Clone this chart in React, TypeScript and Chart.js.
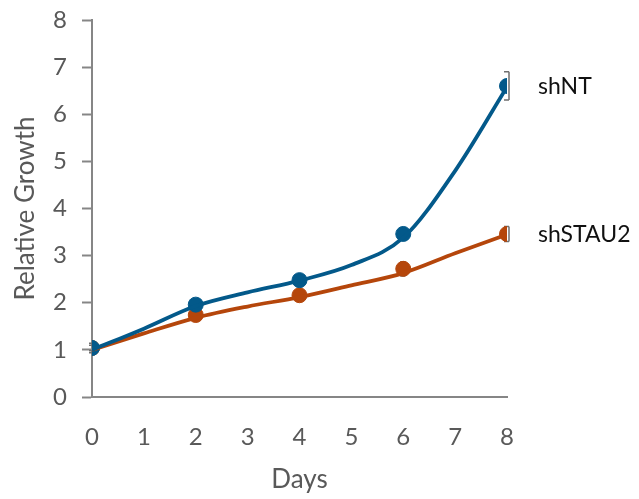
import React, { useEffect, useRef } from "react";
import { Chart, registerables } from "chart.js";

Chart.register(...registerables);

const days = [0, 2, 4, 6, 8];
const shNT = [1.04, 1.96, 2.48, 3.46, 6.6];
const shNTErr = [0.1, 0.08, 0.1, 0.12, 0.3];
const shSTAU2 = [1.04, 1.74, 2.16, 2.72, 3.46];
const shSTAU2Err = [0.06, 0.06, 0.08, 0.15, 0.16];

const trendDays = [0, 1, 2, 3, 4, 5, 6, 7, 8];
const shNTTrend = [1.0, 1.45, 1.93, 2.22, 2.47, 2.8, 3.38, 4.8, 6.58];
const shSTAU2Trend = [1.0, 1.35, 1.68, 1.92, 2.12, 2.37, 2.63, 3.05, 3.45];

const seriesNames = ["shNT", "shSTAU2"];
const yTicks = [0, 1, 2, 3, 4, 5, 6, 7, 8];

const BLUE = "#03598a";
const ORANGE = "#b5460b";
const GRAY = "#868686";
const TEXT = "#595959";
const FONT = "Lato, 'Open Sans', sans-serif";

export default function App() {
  const ref = useRef<HTMLCanvasElement | null>(null);

  useEffect(() => {
    if (!ref.current) return;
    const errs = [shNTErr, shSTAU2Err];

    const errorBars = {
      id: "errorBars",
      beforeDatasetsDraw(chart: any) {
        const ctx = chart.ctx;
        const y = chart.scales.y;
        ctx.save();
        ctx.strokeStyle = "#6f6f6f";
        ctx.lineWidth = 1.5;
        [2, 3].forEach((di, k) => {
          const meta = chart.getDatasetMeta(di);
          const vals = chart.data.datasets[di].data as any[];
          meta.data.forEach((pt: any, i: number) => {
            const v = vals[i].y;
            const e = errs[k][i];
            const x = pt.x + 2;
            const y1 = y.getPixelForValue(v + e);
            const y2 = y.getPixelForValue(v - e);
            ctx.beginPath();
            ctx.moveTo(x, y1);
            ctx.lineTo(x, y2);
            ctx.moveTo(x - 5, y1);
            ctx.lineTo(x, y1);
            ctx.moveTo(x - 5, y2);
            ctx.lineTo(x, y2);
            ctx.stroke();
          });
        });
        ctx.restore();
      },
      afterDatasetsDraw(chart: any) {
        const ctx = chart.ctx;
        ctx.save();
        ctx.fillStyle = "#111111";
        ctx.font = `23px ${FONT}`;
        ctx.textAlign = "left";
        ctx.textBaseline = "middle";
        [2, 3].forEach((di, k) => {
          const meta = chart.getDatasetMeta(di);
          const last = meta.data[meta.data.length - 1];
          ctx.fillText(seriesNames[k], last.x + 31, last.y + 1);
        });
        ctx.restore();
      },
    };

    const chart = new Chart(ref.current, {
      type: "line",
      data: {
        datasets: [
          {
            label: seriesNames[0] + " trend",
            data: trendDays.map((d, i) => ({ x: d, y: shNTTrend[i] })),
            borderColor: BLUE,
            borderWidth: 3.8,
            pointRadius: 0,
            tension: 0.4,
            cubicInterpolationMode: "monotone",
          },
          {
            label: seriesNames[1] + " trend",
            data: trendDays.map((d, i) => ({ x: d, y: shSTAU2Trend[i] })),
            borderColor: ORANGE,
            borderWidth: 3.8,
            pointRadius: 0,
            tension: 0.4,
            cubicInterpolationMode: "monotone",
          },
          {
            label: seriesNames[0],
            data: days.map((d, i) => ({ x: d, y: shNT[i] })),
            showLine: false,
            pointRadius: 7.5,
            pointBackgroundColor: BLUE,
            pointBorderColor: BLUE,
            borderColor: BLUE,
          },
          {
            label: seriesNames[1],
            data: days.map((d, i) => ({ x: d, y: shSTAU2[i] })),
            showLine: false,
            pointRadius: 7.5,
            pointBackgroundColor: ORANGE,
            pointBorderColor: ORANGE,
            borderColor: ORANGE,
          },
        ],
      },
      options: {
        animation: false,
        responsive: true,
        maintainAspectRatio: false,
        layout: { padding: { top: 12, right: 124, left: 0, bottom: 0 } },
        plugins: { legend: { display: false }, tooltip: { enabled: false } },
        scales: {
          x: {
            type: "linear",
            min: 0,
            max: 8,
            afterFit: (s: any) => {
              s.height = 102;
              s.paddingRight = 0;
              s.paddingLeft = 0;
            },
            ticks: {
              stepSize: 1,
              color: TEXT,
              font: { family: FONT, size: 24 },
              padding: 26,
            },
            grid: { display: true, drawOnChartArea: false, drawTicks: false, color: GRAY },
            border: { color: GRAY, width: 2 },
            title: {
              display: true,
              text: "Days",
              color: TEXT,
              font: { family: FONT, size: 26 },
              padding: { top: 2, bottom: 4 },
            },
          },
          y: {
            type: "linear",
            min: 0,
            max: 8,
            afterFit: (s: any) => {
              s.width = 84;
              s.paddingTop = 0;
              s.paddingBottom = 0;
            },
            afterBuildTicks: (s: any) => {
              s.ticks = yTicks.map((v) => ({ value: v }));
            },
            ticks: {
              color: TEXT,
              font: { family: FONT, size: 24 },
              padding: 15,
            },
            grid: {
              display: true,
              drawOnChartArea: false,
              drawTicks: true,
              tickLength: 10,
              tickColor: GRAY,
              tickWidth: 2,
              color: GRAY,
            },
            border: { color: GRAY, width: 2 },
            title: {
              display: true,
              text: "Relative Growth",
              color: TEXT,
              font: { family: FONT, size: 26 },
              padding: { top: 2, bottom: 2 },
            },
          },
        },
      },
      plugins: [errorBars],
    } as any);

    return () => chart.destroy();
  }, []);

  return (
    <div style={{ width: 623, height: 491 }}>
      <canvas ref={ref} />
    </div>
  );
}
